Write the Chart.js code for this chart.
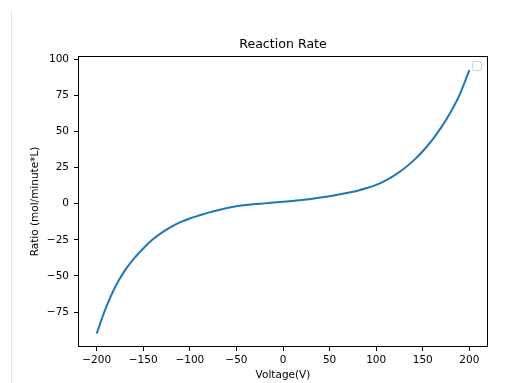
<!DOCTYPE html>
<html>
<head>
<meta charset="utf-8">
<script src="https://cdn.jsdelivr.net/npm/chart.js@4.4.0/dist/chart.umd.min.js"></script>
<style>
    body { margin: 0; background: #fff; }
    #wrap { position: relative; width: 530px; height: 383px; }
    #edge { position: absolute; left: 11px; top: 10px; bottom: 0; border-left: 1px solid #e3e3e3; }
</style>
</head>
<body>
<div id="wrap">
    <div id="edge"></div>
    <canvas id="rateChart" width="530" height="383"></canvas>
</div>
<script>
// 전압 (V)
const voltage = [-200, -190, -180, -170, -160, -150, -140, -130, -120, -110,
    -100, -90, -80, -70, -60, -50, -40, -30, -20, -10,
    0, 10, 20, 30, 40, 50, 60, 70, 80, 90,
    100, 110, 120, 130, 140, 150, 160, 170, 180, 190, 200];

// 반응 속도 (mol/minute*L)
const rate = [-90, -72, -57.5, -46.5, -38, -31, -24.8, -20, -16, -12.8,
    -10.3, -8.2, -6.2, -4.5, -3, -1.8, -1, -0.3, 0.2, 0.8,
    1.3, 1.8, 2.5, 3.3, 4.2, 5.2, 6.3, 7.6, 9, 10.8,
    13, 16, 19.8, 24.3, 29.8, 36.3, 44, 53, 63.5, 76, 92.5];

// 눈금
const xTicks = [-200, -150, -100, -50, 0, 50, 100, 150, 200];
const yTicks = [-75, -50, -25, 0, 25, 50, 75, 100];

const minus = v => String(v).replace('-', '\u2212');
const font = size => ({family: 'DejaVu Sans', size: size, weight: 'normal'});

// 테두리 + 빈 범례 상자
const framePlugin = {
    id: 'frame',
    afterDraw(chart) {
        const {ctx, chartArea: a} = chart;
        ctx.save();
        ctx.strokeStyle = '#000';
        ctx.lineWidth = 1;
        ctx.strokeRect(a.left + 0.5, a.top + 0.5, a.right - a.left - 1, a.bottom - a.top - 1);

        ctx.strokeStyle = '#cccccc';
        ctx.fillStyle = '#fff';
        ctx.beginPath();
        ctx.roundRect(a.right - 15.5, a.top + 5.5, 9, 9, 2);
        ctx.fill();
        ctx.stroke();
        ctx.restore();
    }
};

const ctx = document.getElementById('rateChart');
new Chart(ctx, {
    type: 'line',
    data: {
        datasets: [{
            label: '',
            data: voltage.map((v, i) => ({x: v, y: rate[i]})),
            xAxisID: 'x',
            yAxisID: 'y',
            borderColor: '#1f77b4',
            backgroundColor: '#1f77b4',
            borderWidth: 2,
            pointRadius: 0,
            cubicInterpolationMode: 'monotone',
            fill: false
        }]
    },
    options: {
        responsive: false,
        animation: false,
        layout: {
            padding: {left: 0, right: 42, top: 0, bottom: 0}
        },
        plugins: {
            legend: {display: false},
            tooltip: {enabled: false}
        },
        scales: {
            x: {
                type: 'linear',
                min: -220,
                max: 220,
                afterBuildTicks: scale => { scale.ticks = xTicks.map(v => ({value: v})); },
                afterFit: scale => { scale.height = 36; },
                grid: {drawOnChartArea: false, drawTicks: true, tickLength: 4, color: '#000'},
                border: {display: false},
                ticks: {
                    color: '#000',
                    padding: 3,
                    maxRotation: 0,
                    font: font(10.5),
                    callback: v => minus(v)
                },
                title: {
                    display: true,
                    text: 'Voltage(V)',
                    color: '#000',
                    font: font(10.5),
                    padding: {top: 0, bottom: 1}
                }
            },
            // 제목은 차트 영역 가운데에 오도록 위쪽 축 제목으로 그림
            top: {
                type: 'linear',
                axis: 'x',
                position: 'top',
                afterFit: scale => { scale.height = 56; },
                grid: {display: false},
                border: {display: false},
                ticks: {display: false},
                title: {
                    display: true,
                    text: 'Reaction Rate',
                    color: '#000',
                    font: font(12.6),
                    padding: {top: 37, bottom: 0}
                }
            },
            y: {
                min: -99.2,
                max: 102.2,
                afterBuildTicks: scale => { scale.ticks = yTicks.map(v => ({value: v})); },
                afterFit: scale => { scale.width = 78; },
                grid: {drawOnChartArea: false, drawTicks: true, tickLength: 4, color: '#000'},
                border: {display: false},
                ticks: {
                    color: '#000',
                    padding: 5,
                    font: font(10.5),
                    callback: v => minus(v)
                },
                title: {
                    display: true,
                    text: 'Ratio (mol/minute*L)',
                    color: '#000',
                    font: font(10.5),
                    padding: {top: 29, bottom: 0}
                }
            }
        }
    },
    plugins: [framePlugin]
});
</script>
</body>
</html>
